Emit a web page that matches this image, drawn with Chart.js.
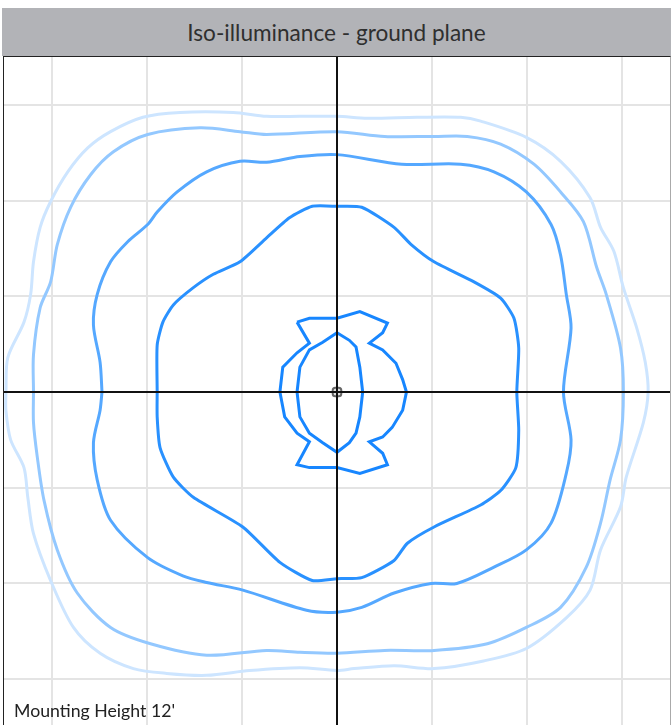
<!DOCTYPE html>
<html>
<head>
<meta charset="utf-8">
<script src="https://cdn.jsdelivr.net/npm/chart.js@4.4.1/dist/chart.umd.min.js"></script>
<style>
  html, body { margin: 0; padding: 0; background: #fff; overflow: hidden; }
  body { width: 671px; height: 725px; position: relative; font-family: Lato, "Open Sans", sans-serif; }
  #title {
    position: absolute; left: 2px; top: 8px; width: 669px; height: 48px;
    background: #b2b3b7; color: #2f2f2f; font-size: 22.6px; line-height: 49px; text-align: center;
  }
  #plot {
    position: absolute; left: 3px; top: 56px; width: 666px; height: 670px;
    border-left: 1px solid #222; border-top: 1px solid #222; border-right: 1px solid #aaa;
  }
  #note { position: absolute; left: 14px; top: 700px; font-size: 17.7px; color: #222; }
</style>
</head>
<body>
<div id="title">Iso-illuminance - ground plane</div>
<div id="plot"><canvas id="isoChart"></canvas></div>
<div id="note">Mounting Height 12'</div>
<script>
// grid positions (feet)
const gridTicks = [-30, -20, -10, 0, 10, 20, 30];

// contour lines, outermost (lightest) to innermost
const c1x = [-34.8,-34.6,-32.9,-32.2,-31.9,-31.2,-30.1,-28.3,-26.2,-23.8,-20.4,-16.5,-10.9,-7.4,-3.9,0,3.2,8.4,13.0,15.1,19.9,23.5,26.6,27.7,29.1,30.1,31.5,32.4,32.7,32.2,30.4,29.8,27.7,26.6,24.1,19.9,15.4,10.2,6.0,1.8,0,-3.9,-9.2,-13.7,-17.9,-21.4,-24.9,-27.7,-30.1,-31.9,-32.5,-32.9,-34.3,-34.8,-34.8];
const c1y = [0,3.6,7.3,10.2,13.6,17.2,19.9,23.0,25.5,27.2,28.7,29.2,29.2,28.8,28.8,28.8,28.6,28.7,28.7,28.3,26.6,24.1,20.3,17.2,14.7,10.9,6.7,3.1,0,-3.2,-8.9,-12.0,-16.5,-20.7,-23.6,-26.8,-28.1,-28.9,-28.6,-28.9,-29.1,-28.8,-29.1,-29.6,-29.4,-28.9,-27.3,-24.6,-19.7,-14.8,-11.0,-7.9,-5.0,-1.9,0];

const c2x = [-31.9,-31.9,-31.2,-30.1,-29.4,-28.0,-25.9,-23.5,-19.9,-14.4,-10.2,-7.4,0,5.0,10.2,13.7,17.2,20.7,23.5,25.9,27.3,28.3,29.8,30.1,29.8,28.7,27.7,26.2,23.5,19.9,15.8,10.2,5.0,0,-3.9,-7.4,-13.7,-19.6,-23.8,-27.3,-29.4,-30.8,-31.5,-31.9,-31.9];
const c2y = [0,3.9,8.8,11.5,15.4,19.3,22.7,25.1,26.9,27.6,27.2,26.9,27.2,26.7,26.7,26.7,25.9,23.8,20.9,17.8,13.0,10.2,4.6,0,-5.0,-9.2,-13.7,-18.3,-22.5,-24.6,-26.3,-27.0,-27.0,-27.3,-27.2,-27.0,-27.5,-26.3,-24.6,-21.0,-16.5,-11.3,-6.8,-3.2,0];

const c3x = [-24.7,-24.9,-25.6,-25.2,-23.8,-22.0,-19.9,-18.9,-16.8,-13.7,-10.2,-7.4,-3.9,0,6.8,13.0,16.5,19.9,22.5,23.5,24.1,24.6,23.8,24.6,24.1,22.5,19.9,16.5,12.6,9.9,6.0,2.6,0,-3.2,-9.9,-13.7,-16.2,-19.9,-23.8,-25.2,-25.6,-24.9,-24.7];
const c3y = [0,3.1,7.0,10.2,13.6,15.7,17.5,18.8,20.9,23.0,24.1,24.0,24.6,24.8,23.8,23.8,23.0,20.9,17.5,14.3,10.2,6.7,0,-5.0,-8.5,-13.7,-16.5,-18.3,-20.0,-20.0,-21.0,-22.5,-23.0,-22.8,-20.7,-19.9,-19.2,-17.3,-13.4,-9.2,-5.3,-1.9,0];

const c4x = [-18.9,-18.9,-18.3,-17.2,-15.1,-13.0,-10.2,-7.4,-5.0,-2.6,0,2.6,6.0,7.8,10.2,14.4,17.2,18.6,19.1,18.9,19.1,18.8,17.2,15.1,10.2,7.4,6.0,2.6,0,-2.6,-6.0,-9.9,-15.1,-17.2,-18.6,-18.9,-18.9];
const c4y = [0,4.9,7.3,9.1,10.9,12.3,13.6,16.1,18.2,19.4,19.4,19.3,17.2,15.4,13.6,11.5,9.8,7.7,4.6,0,-4.0,-7.9,-10.3,-11.8,-14.1,-15.8,-17.6,-19.4,-19.5,-19.7,-17.8,-14.1,-11.0,-8.9,-5.8,-2.6,0];

const c5x = [-4.2,-2.9,0,2.4,5.3,4.8,3.4,4.8,6.2,6.9,7.3,6.9,5.8,4.8,3.4,4.8,5.3,2.4,0,-2.9,-4.2,-2.9,-4.2,-5.5,-6.0,-5.7,-4.2,-2.9,-4.2];
const c5y = [7.3,7.7,7.7,8.4,7.2,6.2,5.1,4.4,3.0,1.3,0,-1.9,-3.7,-4.7,-5.2,-6.4,-7.6,-8.5,-7.9,-7.9,-7.6,-5.2,-4.3,-2.6,0,2.6,4.1,5.1,7.3];

const c6x = [0,1.3,2.0,2.4,2.7,2.4,2.0,1.3,0,-1.5,-2.9,-3.9,-4.2,-3.9,-2.9,-1.5,0];
const c6y = [6.2,5.4,4.7,2.6,0,-2.6,-4.3,-5.3,-6.3,-5.3,-4.3,-2.6,0,2.6,4.4,5.2,6.2];

const contours = [
    { xs: c1x, ys: c1y, color: "#cde5ff", tension: 0.3 },
    { xs: c2x, ys: c2y, color: "#93c8ff", tension: 0.3 },
    { xs: c3x, ys: c3y, color: "#55a8ff", tension: 0.3 },
    { xs: c4x, ys: c4y, color: "#2991ff", tension: 0.2 },
    { xs: c5x, ys: c5y, color: "#1786ff", tension: 0 },
    { xs: c6x, ys: c6y, color: "#1786ff", tension: 0 }
];

const toPoints = (xs, ys) => xs.map((x, i) => ({ x: x, y: ys[i] }));

// axis lines through the origin, drawn above the contours
const originAxes = {
    id: "originAxes",
    afterDatasetsDraw(chart) {
        const { ctx, chartArea, scales } = chart;
        const x0 = scales.x.getPixelForValue(0);
        const y0 = scales.y.getPixelForValue(0);
        ctx.save();
        ctx.strokeStyle = "#111";
        ctx.lineWidth = 2;
        ctx.beginPath();
        ctx.moveTo(x0, chartArea.top);
        ctx.lineTo(x0, chartArea.bottom);
        ctx.moveTo(chartArea.left, y0);
        ctx.lineTo(chartArea.right, y0);
        ctx.stroke();
        ctx.restore();
    }
};

const gridOpts = { color: "#e4e4e4", lineWidth: 2, drawTicks: false };

new Chart(document.getElementById("isoChart"), {
    type: "scatter",
    data: {
        datasets: contours.map(c => ({
            data: toPoints(c.xs, c.ys),
            showLine: true,
            borderColor: c.color,
            borderWidth: 3,
            pointRadius: 0,
            pointHoverRadius: 0,
            tension: c.tension,
            fill: false
        })).concat([{
            data: [{ x: 0, y: 0 }],
            pointStyle: "rectRounded",
            pointRadius: 5,
            backgroundColor: "rgba(0,0,0,0.12)",
            borderColor: "#666",
            borderWidth: 2
        }])
    },
    options: {
        responsive: true,
        maintainAspectRatio: false,
        animation: false,
        layout: { padding: 0, autoPadding: false },
        plugins: { legend: { display: false }, tooltip: { enabled: false } },
        scales: {
            x: {
                type: "linear", min: -35, max: 35,
                afterBuildTicks: (axis) => { axis.ticks = gridTicks.map(v => ({ value: v })); },
                ticks: { display: false },
                grid: gridOpts,
                border: { display: false }
            },
            y: {
                type: "linear", min: -35, max: 35,
                afterBuildTicks: (axis) => { axis.ticks = gridTicks.map(v => ({ value: v })); },
                ticks: { display: false },
                grid: gridOpts,
                border: { display: false }
            }
        }
    },
    plugins: [originAxes]
});
</script>
</body>
</html>
